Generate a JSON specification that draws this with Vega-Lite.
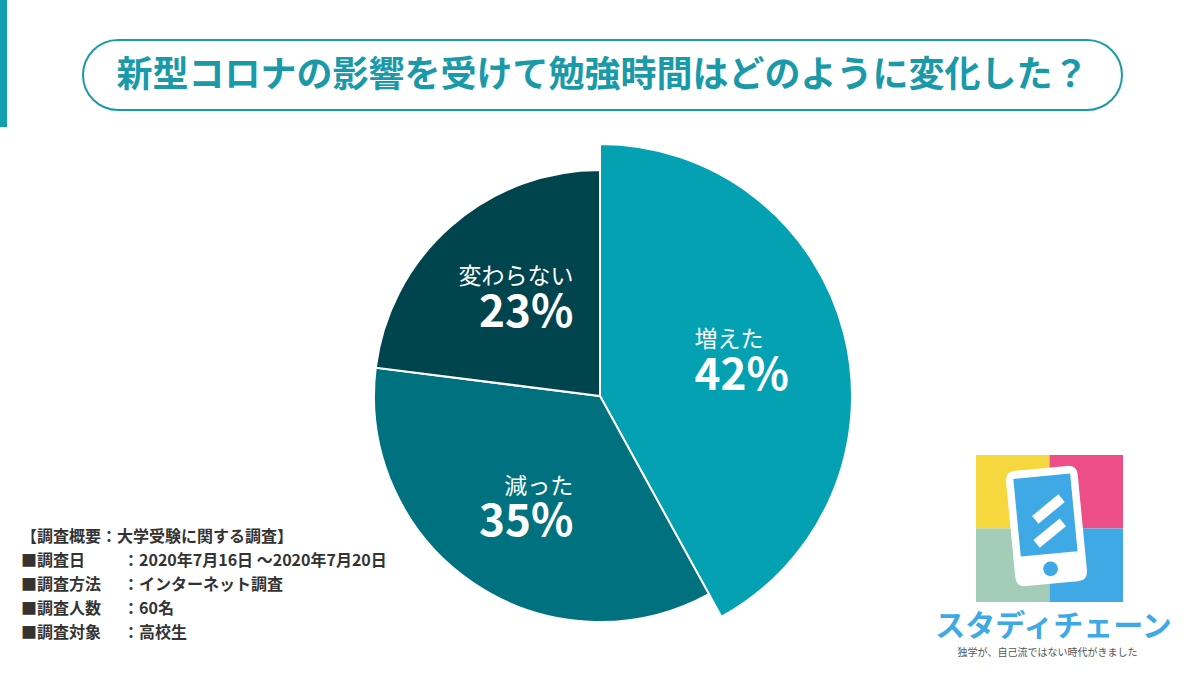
{
  "$schema": "https://vega.github.io/schema/vega-lite/v6.json",
  "padding": 0,
  "background": "white",
  "spacing": 0,
  "config": {"view": {"stroke": null}, "font": "Noto Sans CJK JP", "text": {"font": "Noto Sans CJK JP"}},
  "vconcat": [
    {
      "spacing": 75,
      "hconcat": [
        {
          "width": 7, "height": 127,
          "view": {"fill": "#11A0B1", "stroke": null},
          "data": {"values": [{}]},
          "mark": {"type": "text", "fontSize": 0},
          "encoding": {"text": {"value": ""}}
        },
        {
          "bounds": "flush",
          "spacing": 39,
          "vconcat": [
            {
              "width": 1039, "height": 1,
              "data": {"values": [{}]},
              "mark": {"type": "text", "fontSize": 0},
              "encoding": {"text": {"value": ""}}
            },
            {
              "width": 1039, "height": 70,
              "view": {"stroke": "#1A9AA8", "strokeWidth": 2, "cornerRadius": 35, "fill": "white"},
              "data": {"values": [{}]},
              "mark": {"type": "text", "fontSize": 36, "fontWeight": "bold", "color": "#1A9AA8", "baseline": "middle", "align": "center", "dy": 1},
              "encoding": {"text": {"value": "新型コロナの影響を受けて勉強時間はどのように変化した？"}}
            }
          ]
        }
      ]
    },
    {
      "bounds": "flush",
      "spacing": 176,
      "hconcat": [
        {
          "width": 224, "height": 538,
          "data": {"values": [
            {"line": 1, "col": "label", "text": "【調査概要：大学受験に関する調査】"},
            {"line": 2, "col": "label", "text": "■調査日"},
            {"line": 2, "col": "value", "text": "：2020年7月16日 〜2020年7月20日"},
            {"line": 3, "col": "label", "text": "■調査方法"},
            {"line": 3, "col": "value", "text": "：インターネット調査"},
            {"line": 4, "col": "label", "text": "■調査人数"},
            {"line": 4, "col": "value", "text": "：60名"},
            {"line": 5, "col": "label", "text": "■調査対象"},
            {"line": 5, "col": "value", "text": "：高校生"}
          ]},
          "mark": {"type": "text", "align": "left", "baseline": "middle", "fontSize": 16, "fontWeight": "bold", "color": "#333333"},
          "encoding": {
            "x": {"field": "col", "type": "nominal", "axis": null, "scale": {"type": "point", "domain": ["label", "value"], "range": [21, 123], "padding": 0}},
            "y": {"field": "line", "type": "ordinal", "axis": null, "scale": {"type": "point", "range": [410, 506], "padding": 0}},
            "text": {"field": "text", "type": "nominal"}
          }
        },
        {
          "width": 400, "height": 538,
          "data": {"values": [
            {"cat": "増えた", "value": 0.42},
            {"cat": "減った", "value": 0.35},
            {"cat": "変わらない", "value": 0.23}
          ]},
          "encoding": {
            "theta": {"field": "value", "type": "quantitative", "stack": true},
            "order": {"field": "value", "type": "quantitative", "sort": "descending"}
          },
          "layer": [
            {
              "mark": {"type": "arc", "radius": 252, "stroke": "white", "strokeWidth": 2},
              "encoding": {
                "color": {"field": "cat", "type": "nominal", "legend": null, "scale": {"domain": ["増えた", "減った", "変わらない"], "range": ["#04A1B2", "#00717E", "#00444E"]}},
                "opacity": {"condition": {"test": "datum.cat === '増えた'", "value": 1}, "value": 0}
              }
            },
            {
              "mark": {"type": "arc", "radius": 226, "stroke": "white", "strokeWidth": 2},
              "encoding": {
                "color": {"field": "cat", "type": "nominal", "legend": null},
                "opacity": {"condition": {"test": "datum.cat === '増えた'", "value": 0}, "value": 1}
              }
            },
            {
              "mark": {"type": "text", "radius": 140, "align": "left", "baseline": "middle", "dx": -41, "dy": -21, "fontSize": 23, "color": "white"},
              "encoding": {"detail": {"field": "cat"}, "text": {"field": "cat", "type": "nominal", "condition": {"test": "datum.cat !== '増えた'", "value": ""}}}
            },
            {
              "mark": {"type": "text", "radius": 140, "align": "left", "baseline": "middle", "dx": -41, "dy": 16, "fontSize": 44, "fontWeight": "bold", "color": "white"},
              "encoding": {"detail": {"field": "cat"}, "text": {"field": "value", "type": "quantitative", "format": ".0%", "condition": {"test": "datum.cat !== '増えた'", "value": ""}}}
            },
            {
              "mark": {"type": "text", "radius": 140, "align": "right", "baseline": "middle", "dx": 52, "dy": -25, "fontSize": 23, "color": "white"},
              "encoding": {"detail": {"field": "cat"}, "text": {"field": "cat", "type": "nominal", "condition": {"test": "datum.cat !== '減った'", "value": ""}}}
            },
            {
              "mark": {"type": "text", "radius": 140, "align": "right", "baseline": "middle", "dx": 52, "dy": 11, "fontSize": 44, "fontWeight": "bold", "color": "white"},
              "encoding": {"detail": {"field": "cat"}, "text": {"field": "value", "type": "quantitative", "format": ".0%", "condition": {"test": "datum.cat !== '減った'", "value": ""}}}
            },
            {
              "mark": {"type": "text", "radius": 140, "align": "right", "baseline": "middle", "dx": 66, "dy": -14, "fontSize": 23, "color": "white"},
              "encoding": {"detail": {"field": "cat"}, "text": {"field": "cat", "type": "nominal", "condition": {"test": "datum.cat !== '変わらない'", "value": ""}}}
            },
            {
              "mark": {"type": "text", "radius": 140, "align": "right", "baseline": "middle", "dx": 66, "dy": 23, "fontSize": 44, "fontWeight": "bold", "color": "white"},
              "encoding": {"detail": {"field": "cat"}, "text": {"field": "value", "type": "quantitative", "format": ".0%", "condition": {"test": "datum.cat !== '変わらない'", "value": ""}}}
            }
          ]
        },
        {
          "bounds": "flush",
          "spacing": 327,
          "vconcat": [
            {
              "width": 147, "height": 1,
              "data": {"values": [{}]},
              "mark": {"type": "text", "fontSize": 0},
              "encoding": {"text": {"value": ""}}
            },
            {
              "width": 147, "height": 147,
              "layer": [
                {
                  "data": {"values": [
                    {"col": "L", "row": "T", "tone": "yellow"},
                    {"col": "R", "row": "T", "tone": "pink"},
                    {"col": "L", "row": "B", "tone": "green"},
                    {"col": "R", "row": "B", "tone": "blue"}
                  ]},
                  "mark": {"type": "rect"},
                  "encoding": {
                    "x": {"field": "col", "type": "nominal", "axis": null, "scale": {"domain": ["L", "R"], "paddingInner": 0, "paddingOuter": 0}},
                    "y": {"field": "row", "type": "nominal", "axis": null, "scale": {"domain": ["T", "B"], "paddingInner": 0, "paddingOuter": 0}},
                    "fill": {"field": "tone", "type": "nominal", "legend": null, "scale": {"domain": ["yellow", "pink", "green", "blue"], "range": ["#F6D83E", "#ED4E88", "#A3CDB6", "#3FA9E6"]}}
                  }
                },
                {
                  "data": {"values": [{}]},
                  "mark": {"type": "point", "filled": true, "color": "white", "opacity": 1, "size": 14400, "angle": -5.5, "xOffset": -3, "yOffset": -2.5,
                    "shape": "M-0.433,-0.965L0.433,-0.965Q0.6,-0.965 0.6,-0.798L0.6,0.798Q0.6,0.965 0.433,0.965L-0.433,0.965Q-0.6,0.965 -0.6,0.798L-0.6,-0.798Q-0.6,-0.965 -0.433,-0.965Z"},
                  "encoding": {}
                },
                {
                  "data": {"values": [{}]},
                  "mark": {"type": "point", "filled": true, "color": "#3FA9E6", "opacity": 1, "size": 14400, "angle": -5.5, "xOffset": -3, "yOffset": -2.5,
                    "shape": "M-0.475,-0.833L0.475,-0.833L0.475,0.467L-0.475,0.467Z"},
                  "encoding": {}
                },
                {
                  "data": {"values": [{}]},
                  "mark": {"type": "point", "filled": true, "color": "white", "opacity": 1, "size": 14400, "angle": -5.5, "xOffset": -3, "yOffset": -2.5,
                    "shape": "M0.340,-0.368L0.247,-0.506L-0.223,-0.189L-0.130,-0.051Z M0.323,0.034L0.230,-0.104L-0.240,0.213L-0.147,0.351Z"},
                  "encoding": {}
                },
                {
                  "data": {"values": [{}]},
                  "mark": {"type": "point", "filled": true, "color": "#3FA9E6", "opacity": 1, "size": 14400, "angle": -5.5, "xOffset": -3, "yOffset": -2.5,
                    "shape": "M0,0.595A0.122,0.122 0 1,1 0,0.839A0.122,0.122 0 1,1 0,0.595Z"},
                  "encoding": {}
                },
                {
                  "data": {"values": [{}]},
                  "mark": {"type": "text", "fontSize": 30, "fontWeight": "bold", "color": "#3FA9E6", "align": "center", "baseline": "middle", "dx": 4, "dy": 98},
                  "encoding": {"text": {"value": "スタディチェーン"}}
                },
                {
                  "data": {"values": [{}]},
                  "mark": {"type": "text", "fontSize": 10, "color": "#555555", "align": "center", "baseline": "middle", "dx": -2, "dy": 124},
                  "encoding": {"text": {"value": "独学が、自己流ではない時代がきました"}}
                }
              ]
            }
          ]
        }
      ]
    }
  ]
}
